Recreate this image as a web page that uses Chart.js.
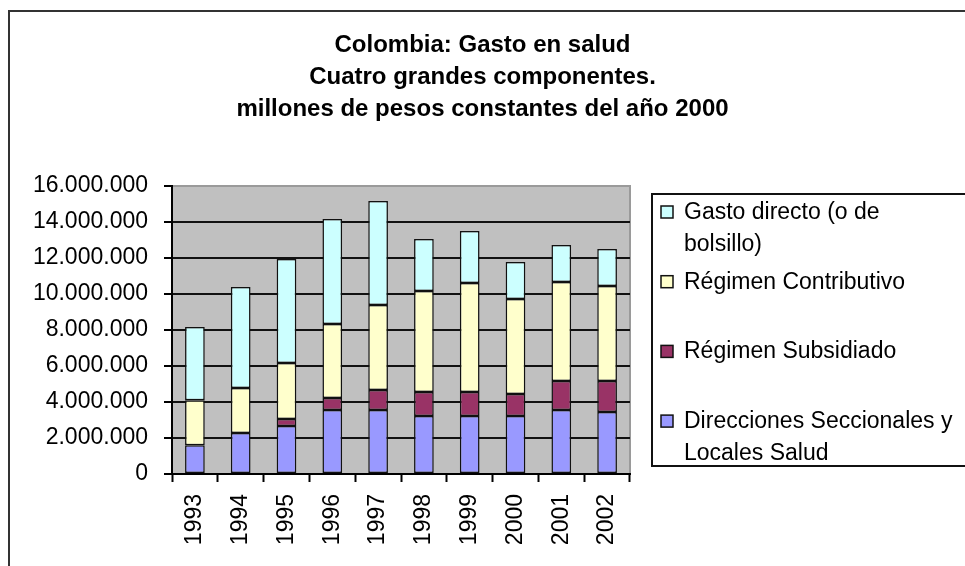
<!DOCTYPE html>
<html>
<head>
<meta charset="utf-8">
<script src="https://cdn.jsdelivr.net/npm/chart.js@4.4.1/dist/chart.umd.min.js"></script>
<style>
  body { margin: 0; background: #fff; }
  #wrap { position: relative; width: 965px; height: 566px; overflow: hidden; }
  #frame { position: absolute; left: 8px; top: 10px; width: 1000px; height: 600px; border: 2px solid #333; pointer-events: none; }
  canvas { position: absolute; left: 0; top: 0; }
</style>
</head>
<body>
<div id="wrap">
  <canvas id="gasto" width="965" height="566"></canvas>
  <div id="frame"></div>
</div>
<script>
// anos
var years = ['1993', '1994', '1995', '1996', '1997', '1998', '1999', '2000', '2001', '2002'];

// componentes, en millones de pesos constantes del 2000
var direcciones  = [1600000, 2280000, 2670000, 3560000, 3560000, 3220000, 3220000, 3220000, 3560000, 3440000];
var subsidiado   = [0, 0, 390000, 660000, 1110000, 1340000, 1340000, 1220000, 1610000, 1730000];
var contributivo = [2500000, 2500000, 3110000, 4110000, 4720000, 5610000, 6050000, 5280000, 5500000, 5270000];
var gastoDirecto = [4070000, 5610000, 5770000, 5840000, 5780000, 2890000, 2890000, 2060000, 2050000, 2060000];

var yTicks = [0, 2000000, 4000000, 6000000, 8000000, 10000000, 12000000, 14000000, 16000000];

var titleLines = ['Colombia: Gasto en salud', 'Cuatro grandes componentes.', 'millones de pesos constantes del año 2000'];

var FONT = 'Liberation Sans, Arial, sans-serif';

function puntos(v) {
    return String(v).replace(/\B(?=(\d{3})+(?!\d))/g, '.');
}

// fondo gris del area de trazado
var plotBg = {
    id: 'plotBg',
    beforeDraw: function (chart) {
        var a = chart.chartArea, c = chart.ctx;
        c.save();
        c.fillStyle = '#c0c0c0';
        c.fillRect(a.left, a.top, a.right - a.left, a.bottom - a.top);
        c.strokeStyle = '#9a9a9a';
        c.lineWidth = 2;
        c.beginPath();
        c.moveTo(a.left, a.top);
        c.lineTo(a.right, a.top);
        c.lineTo(a.right, a.bottom);
        c.stroke();
        c.restore();
    }
};

// leyenda tipo Excel a la derecha
var boxLegend = {
    id: 'boxLegend',
    afterDraw: function (chart) {
        var c = chart.ctx;
        var sets = chart.data.datasets.slice().reverse();
        c.save();
        c.strokeStyle = '#111';
        c.lineWidth = 2;
        c.strokeRect(652, 194, 400, 272);
        c.font = '23px ' + FONT;
        c.fillStyle = '#000';
        c.textBaseline = 'alphabetic';
        sets.forEach(function (ds, i) {
            var base = 219 + i * 69.7;
            c.fillStyle = ds.backgroundColor;
            c.fillRect(661, base - 13, 12, 12);
            c.lineWidth = 1.5;
            c.strokeStyle = '#111';
            c.strokeRect(661, base - 13, 12, 12);
            c.fillStyle = '#000';
            // partir el texto en lineas
            var words = ds.label.split(' '), line = '', lines = [];
            words.forEach(function (w) {
                var t = line ? line + ' ' + w : w;
                if (c.measureText(t).width > 274 && line) { lines.push(line); line = w; }
                else line = t;
            });
            lines.push(line);
            lines.forEach(function (l, j) {
                c.fillText(l, j === 0 ? 684 : 684, base + j * 32);
            });
        });
        c.restore();
    }
};

var ctx = document.getElementById('gasto').getContext('2d');
var myChart = new Chart(ctx, {
    type: 'bar',
    data: {
        labels: years,
        datasets: [
            { label: 'Direcciones Seccionales y Locales Salud', data: direcciones, backgroundColor: '#9999ff' },
            { label: 'Régimen Subsidiado', data: subsidiado, backgroundColor: '#993366' },
            { label: 'Régimen Contributivo', data: contributivo, backgroundColor: '#ffffcc' },
            { label: 'Gasto directo (o de bolsillo)', data: gastoDirecto, backgroundColor: '#ccffff' }
        ]
    },
    options: {
        responsive: false,
        animation: false,
        devicePixelRatio: 1,
        datasets: {
            bar: {
                borderColor: '#111',
                borderWidth: 1.5,
                borderSkipped: false,
                categoryPercentage: 1,
                barPercentage: 0.43
            }
        },
        layout: { padding: 0 },
        plugins: {
            legend: { display: false },
            tooltip: { enabled: false },
            title: {
                display: true,
                text: titleLines,
                color: '#000',
                font: { family: FONT, size: 24, weight: 'bold', lineHeight: 32 / 24 },
                padding: { top: 29, bottom: 61 }
            }
        },
        scales: {
            x: {
                stacked: true,
                grid: { offset: true, drawOnChartArea: false, tickLength: 8, tickColor: '#000', tickWidth: 2 },
                border: { color: '#000', width: 2 },
                ticks: {
                    color: '#000',
                    font: { family: FONT, size: 23 },
                    minRotation: 90,
                    maxRotation: 90,
                    padding: 12
                },
                afterFit: function (s) { s.height = 92; }
            },
            y: {
                stacked: true,
                min: 0,
                max: 16000000,
                afterBuildTicks: function (s) { s.ticks = yTicks.map(function (v) { return { value: v }; }); },
                grid: {
                    color: function (c) { return c.tick && c.tick.value === 16000000 ? 'rgba(0,0,0,0)' : '#111'; },
                    lineWidth: 2,
                    tickLength: 8,
                    tickColor: '#000',
                    tickWidth: 2
                },
                border: { color: '#000', width: 2 },
                ticks: {
                    color: '#000',
                    font: { family: FONT, size: 23 },
                    padding: 16,
                    callback: function (v) { return puntos(v); }
                },
                afterFit: function (s) { s.width = 172; }
            },
            // eje vacio a la derecha para dejar sitio a la leyenda
            yr: {
                position: 'right',
                grid: { display: false },
                border: { display: false },
                ticks: { display: false },
                afterFit: function (s) { s.width = 335; }
            }
        }
    },
    plugins: [plotBg, boxLegend]
});
</script>
</body>
</html>
